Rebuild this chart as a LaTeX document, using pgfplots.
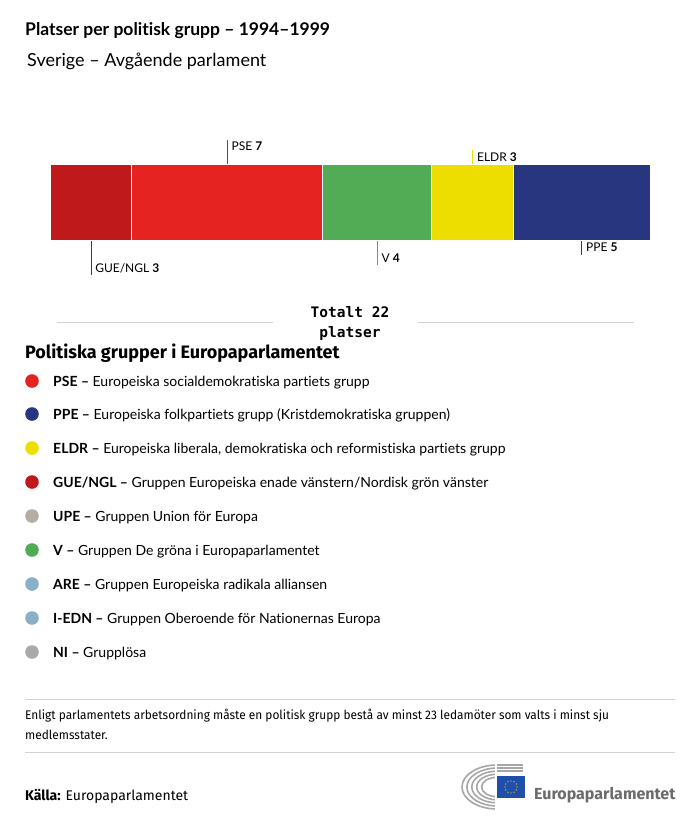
\documentclass[border=0pt]{standalone}
\usepackage{pgfplots}
\pgfplotsset{compat=1.18}
\usepackage{fontspec}
\setmainfont{Lato}[Ligatures=NoCommon]
\newfontfamily\monofont{DejaVu Sans Mono}
\newfontfamily\firafont{Fira Sans}

\definecolor{cGUE}{HTML}{C0191C}
\definecolor{cPSE}{HTML}{E52421}
\definecolor{cV}{HTML}{52AC56}
\definecolor{cELDR}{HTML}{EDDE00}
\definecolor{cPPE}{HTML}{27367E}
\definecolor{cUPE}{HTML}{B5ADA0}
\definecolor{cARE}{HTML}{8AB0C8}
\definecolor{cNI}{HTML}{A9A9A9}
\definecolor{rule}{HTML}{D2D2D2}
\definecolor{logogray}{HTML}{6B6B6B}
\definecolor{eublue}{HTML}{1F4FAA}

\newcommand{\fs}[1]{\fontsize{#1}{#1}\selectfont}

\begin{document}
\begin{tikzpicture}[x=1pt,y=-1pt]
\fill[white] (0,0) rectangle (700,820);

% titles
\node[anchor=base west,inner sep=0,font=\fs{17.5}\bfseries] at (25,35) {Platser per politisk grupp – 1994–1999};
\node[anchor=base west,inner sep=0,font=\fs{18}] at (27,66) {Sverige – Avgående parlament};

% stacked bar
\begin{axis}[
    at={(50pt,-240pt)}, anchor=south west,
    width=600pt, height=76pt, scale only axis,
    xbar stacked, bar width=76pt,
    xmin=0, xmax=22, ymin=0, ymax=1,
    hide axis, clip=false,
    every axis plot/.append style={draw=white, line width=0.8pt},
]
\addplot[fill=cGUE]  coordinates {(3,0.5)};
\addplot[fill=cPSE]  coordinates {(7,0.5)};
\addplot[fill=cV]    coordinates {(4,0.5)};
\addplot[fill=cELDR] coordinates {(3,0.5)};
\addplot[fill=cPPE]  coordinates {(5,0.5)};

% leader lines and labels
\draw[cGUE!80!black, line width=0.7pt] (axis cs:1.5,0) -- ++(0pt,-35pt)
    node[pos=1, anchor=base west, inner sep=0, xshift=4pt, yshift=3pt, text=black, font=\fs{12}] {GUE/NGL \textbf{3}};
\draw[cPSE!85!black, line width=0.7pt] (axis cs:6.5,1) -- ++(0pt,24pt)
    node[pos=1, anchor=base west, inner sep=0, xshift=4pt, yshift=-10pt, text=black, font=\fs{12}] {PSE \textbf{7}};
\draw[cV, line width=0.7pt] (axis cs:12,0) -- ++(0pt,-25pt)
    node[pos=1, anchor=base west, inner sep=0, xshift=4pt, yshift=3pt, text=black, font=\fs{12}] {V \textbf{4}};
\draw[cELDR, line width=0.7pt] (axis cs:15.5,1) -- ++(0pt,14pt)
    node[pos=1, anchor=base west, inner sep=0, xshift=4pt, yshift=-11pt, text=black, font=\fs{12}] {ELDR \textbf{3}};
\draw[cPPE, line width=0.7pt] (axis cs:19.5,0) -- ++(0pt,-15pt)
    node[pos=1, anchor=base west, inner sep=0, xshift=4pt, yshift=4pt, text=black, font=\fs{12}] {PPE \textbf{5}};
\end{axis}

% total
\draw[rule, line width=0.8pt] (57,322) -- (273,322);
\draw[rule, line width=0.8pt] (418,322) -- (634,322);
\node[anchor=base,inner sep=0,font=\monofont\fs{14.5}\bfseries] at (350,317) {Totalt 22};
\node[anchor=base,inner sep=0,font=\monofont\fs{14.5}\bfseries] at (350,337) {platser};

% legend
\node[anchor=base west,inner sep=0,font=\firafont\fs{18}\bfseries] at (25,358) {Politiska grupper i Europaparlamentet};
\foreach \c/\y/\t in {
  cPSE/381/{\textbf{PSE –} Europeiska socialdemokratiska partiets grupp},
  cPPE/414/{\textbf{PPE –} Europeiska folkpartiets grupp (Kristdemokratiska gruppen)},
  cELDR/448/{\textbf{ELDR –} Europeiska liberala, demokratiska och reformistiska partiets grupp},
  cGUE/482/{\textbf{GUE/NGL –} Gruppen Europeiska enade vänstern/Nordisk grön vänster},
  cUPE/516/{\textbf{UPE –} Gruppen Union för Europa},
  cV/550/{\textbf{V –} Gruppen De gröna i Europaparlamentet},
  cARE/584/{\textbf{ARE –} Gruppen Europeiska radikala alliansen},
  cARE/618/{\textbf{I-EDN –} Gruppen Oberoende för Nationernas Europa},
  cNI/652/{\textbf{NI –} Grupplösa}} {
  \fill[\c] (32,\y) circle (6.8pt);
  \node[anchor=base west,inner sep=0,font=\fs{14}] at (53,\y+5) {\t};
}

% footnote
\draw[rule, line width=0.8pt] (25,699) -- (675,699);
\draw[rule, line width=0.8pt] (25,752) -- (675,752);
\node[anchor=base west,inner sep=0,font=\firafont\fs{12.5}] at (25,719) {\scalebox{0.95}[1]{Enligt parlamentets arbetsordning måste en politisk grupp bestå av minst 23 ledamöter som valts i minst sju}};
\node[anchor=base west,inner sep=0,font=\firafont\fs{12.5}] at (25,739) {\scalebox{0.95}[1]{medlemsstater.}};

% source
\node[anchor=base west,inner sep=0,font=\firafont\fs{14}] at (25,800) {\textbf{Källa:} Europaparlamentet};

% logo
\foreach \r in {1,0.86,0.72,0.58,0.44} {
  \draw[logogray!60, line width=1.6pt] (497,787) ++(90:{35*\r} and {22*\r}) arc[start angle=90, end angle=270, x radius={35*\r}, y radius={22*\r}];
}
\fill[white] (495,760) rectangle (530,812);
\foreach \r in {1,0.86,0.72} {
  \draw[logogray!60, line width=1.6pt] (497,{787-22*\r}) -- (523,{787-22*\r});
}
\fill[eublue] (497,776) rectangle (525,798);
\foreach \a in {0,30,...,330} {
  \fill[yellow] (511,787) ++(\a:6pt) circle (0.6pt);
}
\node[anchor=base west,inner sep=0,font=\firafont\fs{16}\bfseries,text=logogray] at (534,799) {Europaparlamentet};
\end{tikzpicture}
\end{document}
